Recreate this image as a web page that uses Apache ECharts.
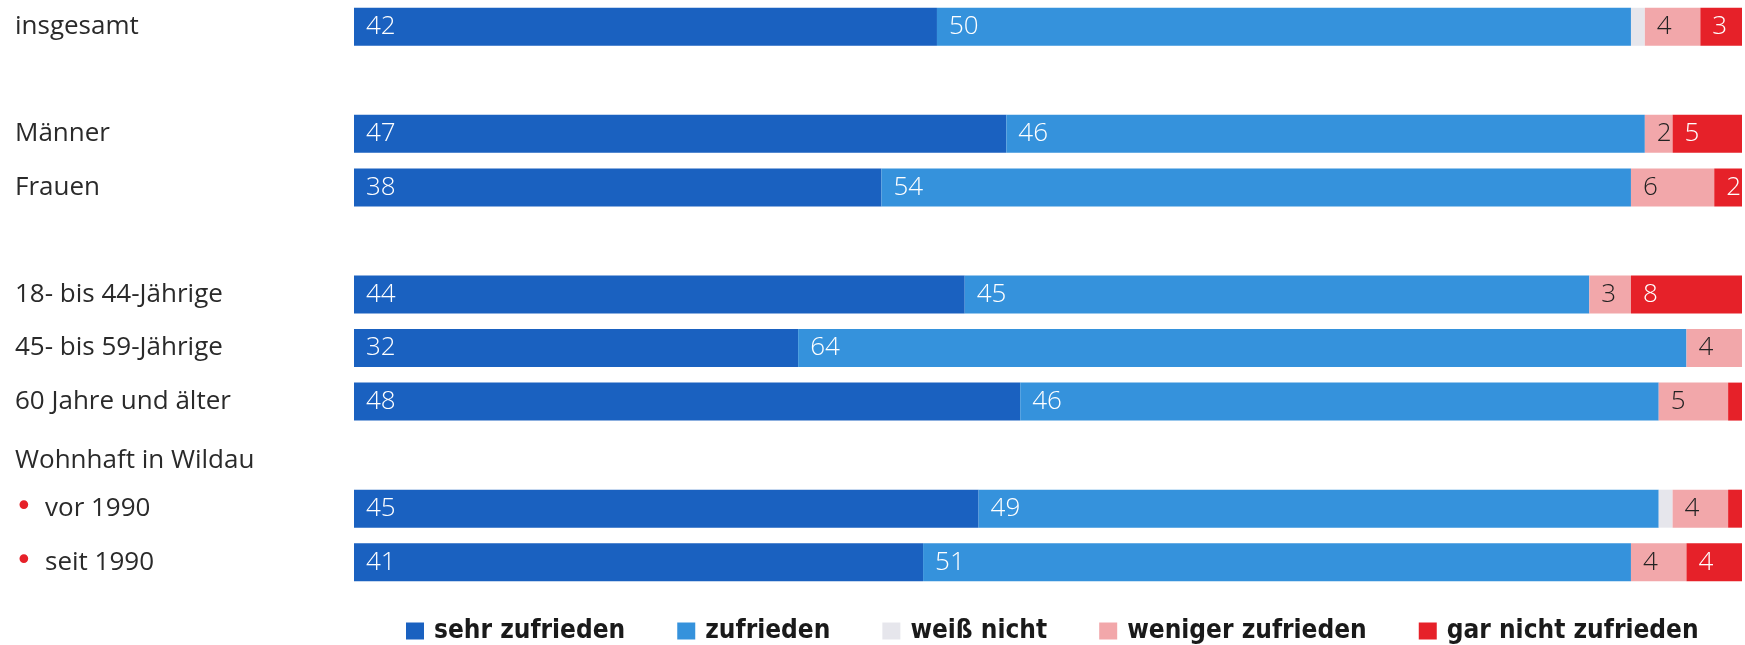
<!DOCTYPE html>
<html>
<head>
<meta charset="utf-8">
<script src="https://cdn.jsdelivr.net/npm/echarts@6/dist/echarts.min.js"></script>
<style>
    html, body { margin: 0; padding: 0; background: #fff; }
    #chart-container { width: 1745px; height: 645px; }
</style>
</head>
<body>
<div id="chart-container"></div>
<script>
// rows from top to bottom, blank strings are the spacer rows
var categories = ['insgesamt', ' ', 'Männer', 'Frauen', '  ', '18- bis 44-Jährige', '45- bis 59-Jährige', '60 Jahre und älter', 'Wohnhaft in Wildau', 'vor 1990', 'seit 1990'];
var bulletRows = ['vor 1990', 'seit 1990'];
var headingRow = 'Wohnhaft in Wildau';

var seriesNames = ['sehr zufrieden', 'zufrieden', 'weiß nicht', 'weniger zufrieden', 'gar nicht zufrieden'];
var sehrZufrieden = [42, null, 47, 38, null, 44, 32, 48, null, 45, 41];
var zufrieden = [50, null, 46, 54, null, 45, 64, 46, null, 49, 51];
var weissNicht = [1, null, 0, 0, null, 0, 0, 0, null, 1, 0];
var wenigerZufrieden = [4, null, 2, 6, null, 3, 4, 5, null, 4, 4];
var garNichtZufrieden = [3, null, 5, 2, null, 8, 0, 1, null, 1, 4];

var colors = ['#1a61c0', '#3592dc', '#e6e6ec', '#f2a7aa', '#e62129'];
var labelColors = ['#fff', '#fff', '#333', '#222', '#fff'];
var values = [sehrZufrieden, zufrieden, weissNicht, wenigerZufrieden, garNichtZufrieden];

var dom = document.getElementById('chart-container');
var myChart = echarts.init(dom, null, { renderer: 'canvas' });

var series = seriesNames.map(function (name, i) {
    return {
        name: name,
        type: 'bar',
        stack: 'all',
        barWidth: 38,
        data: values[i],
        itemStyle: { color: colors[i] },
        label: {
            show: i !== 2,
            position: 'insideLeft',
            distance: 12,
            color: labelColors[i],
            fontFamily: 'Open Sans',
            fontWeight: 300,
            fontSize: 26,
            formatter: function (p) {
                return p.value >= 2 ? p.value : '';
            }
        },
        emphasis: { disabled: true }
    };
});

var option = {
    animation: false,
    grid: { left: 354, right: 3, top: 0, bottom: 56 },
    legend: {
        left: 401,
        top: 613,
        itemWidth: 18,
        itemHeight: 17,
        itemGap: 52,
        icon: 'rect',
        data: seriesNames,
        textStyle: {
            fontFamily: 'DejaVu Sans Condensed',
            fontWeight: 'bold',
            fontSize: 26,
            color: '#1a1a1a',
            padding: [0, 0, 0, 5]
        }
    },
    xAxis: {
        type: 'value',
        min: 0,
        max: 100,
        show: false
    },
    yAxis: {
        type: 'category',
        inverse: true,
        data: categories,
        axisLine: { show: false },
        axisTick: { show: false },
        axisLabel: {
            align: 'left',
            margin: 339,
            fontFamily: 'Open Sans',
            fontSize: 26,
            color: '#2a2a2a',
            formatter: function (v) {
                if (bulletRows.indexOf(v) >= 0) {
                    return '{d|•}{t|' + v + '}';
                }
                if (v === headingRow) {
                    return '{h|' + v + '}';
                }
                return v;
            },
            rich: {
                d: { color: '#e62129', fontSize: 30, width: 30, fontFamily: 'DejaVu Sans' },
                t: { fontFamily: 'Open Sans', fontSize: 26, color: '#2a2a2a' },
                h: { fontFamily: 'Open Sans', fontSize: 26, color: '#2a2a2a', padding: [10, 0, 0, 0] }
            }
        }
    },
    series: series
};

if (option && typeof option === 'object') {
    myChart.setOption(option);
}

window.addEventListener('resize', myChart.resize);
</script>
</body>
</html>
